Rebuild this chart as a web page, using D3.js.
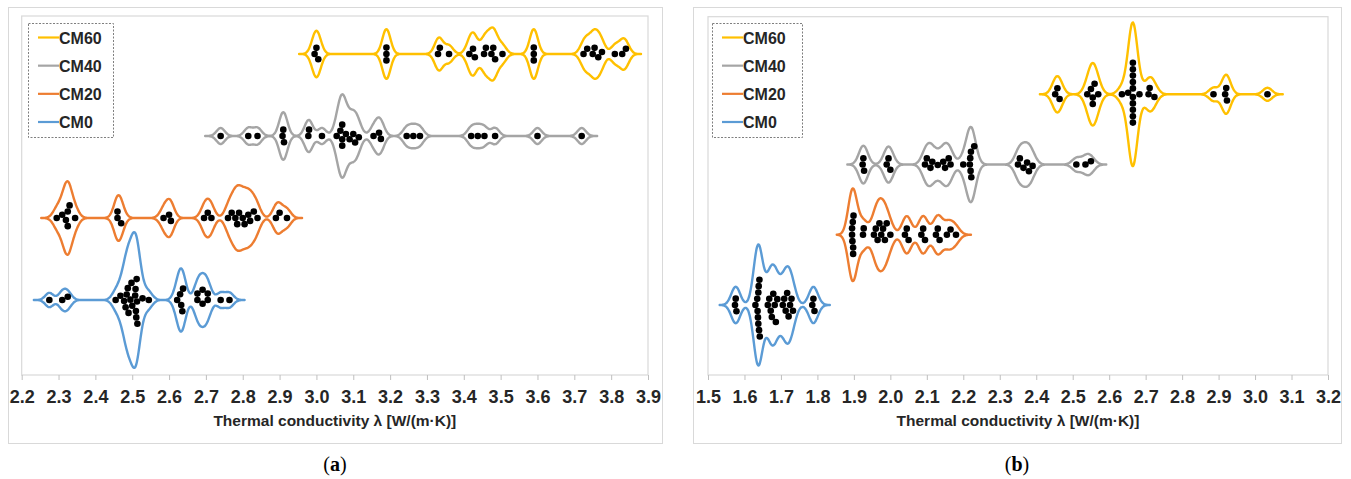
<!DOCTYPE html>
<html>
<head>
<meta charset="utf-8">
<script src="https://cdn.jsdelivr.net/npm/d3@7"></script>
<style>
  body { margin: 0; background: #fff; }
  svg { display: block; font-family: "Liberation Sans", Arial, sans-serif; }
  .tick text { font-size: 18px; font-weight: bold; fill: #262626; }
  .tick line { stroke: #bfbfbf; }
</style>
</head>
<body>
<svg width="1351" height="479"></svg>
<script>
// **** data ****
var groups = ['CM0', 'CM20', 'CM40', 'CM60'];
var legendOrder = ['CM60', 'CM40', 'CM20', 'CM0'];

// panel (a)
var cm0A = [2.275, 2.31, 2.325, 2.455, 2.468, 2.478, 2.482, 2.485, 2.488, 2.49, 2.495, 2.498, 2.50,
            2.508, 2.509, 2.510, 2.511, 2.512, 2.513, 2.514, 2.528, 2.545, 2.622, 2.630, 2.633,
            2.636, 2.638, 2.677, 2.677, 2.691, 2.691, 2.705, 2.705, 2.74, 2.764];
var cm20A = [2.295, 2.31, 2.32, 2.325, 2.325, 2.33, 2.345, 2.46, 2.46, 2.47, 2.585, 2.60, 2.605,
             2.695, 2.705, 2.715, 2.76, 2.77, 2.78, 2.785, 2.79, 2.80, 2.805, 2.815, 2.82, 2.83,
             2.84, 2.89, 2.90, 2.92];
var cm40A = [2.74, 2.815, 2.84, 2.908, 2.910, 2.912, 2.978, 2.98, 3.015, 3.055, 3.065, 3.07, 3.07, 3.07,
             3.08, 3.09, 3.10, 3.105, 3.115, 3.155, 3.17, 3.175, 3.245, 3.263, 3.281, 3.42, 3.438,
             3.456, 3.485, 3.60, 3.72];
var cm60A = [2.995, 3.00, 3.005, 3.19, 3.19, 3.19, 3.33, 3.335, 3.36, 3.415, 3.425, 3.43, 3.455, 3.46,
             3.475, 3.48, 3.485, 3.505, 3.59, 3.59, 3.59, 3.725, 3.735, 3.75, 3.755, 3.765, 3.775,
             3.81, 3.83, 3.84];

// panel (b)
var cm0B = [1.574, 1.576, 1.578, 1.630, 1.635, 1.636, 1.637, 1.638, 1.638, 1.639, 1.640, 1.641, 1.642,
            1.664, 1.668, 1.672, 1.675, 1.679, 1.683, 1.686, 1.690, 1.705, 1.709, 1.713, 1.717,
            1.721, 1.725, 1.729, 1.733, 1.786, 1.789, 1.792];
var cm20B = [1.895, 1.895, 1.896, 1.897, 1.898, 1.898, 1.899, 1.925, 1.927, 1.955, 1.96, 1.965, 1.97,
             1.975, 1.98, 1.985, 1.99, 2.0, 2.04, 2.045, 2.05, 2.085, 2.09, 2.095, 2.125, 2.13,
             2.135, 2.155, 2.165, 2.18];
var cm40B = [1.924, 1.926, 1.928, 1.99, 1.995, 2.0, 2.095, 2.10, 2.11, 2.115, 2.13, 2.145, 2.15, 2.16,
             2.165, 2.20, 2.218, 2.219, 2.22, 2.221, 2.222, 2.23, 2.35, 2.355, 2.365, 2.375, 2.38,
             2.39, 2.51, 2.535, 2.55];
var cm60B = [2.452, 2.458, 2.464, 2.54, 2.55, 2.555, 2.555, 2.56, 2.57, 2.635, 2.652, 2.665, 2.665,
             2.665, 2.665, 2.665, 2.665, 2.665, 2.665, 2.665, 2.665, 2.683, 2.708, 2.711, 2.724,
             2.886, 2.918, 2.921, 2.923, 3.034];

var ticksA = [2.2, 2.3, 2.4, 2.5, 2.6, 2.7, 2.8, 2.9, 3.0, 3.1, 3.2, 3.3, 3.4, 3.5, 3.6, 3.7, 3.8, 3.9];
var ticksB = [1.5, 1.6, 1.7, 1.8, 1.9, 2.0, 2.1, 2.2, 2.3, 2.4, 2.5, 2.6, 2.7, 2.8, 2.9, 3.0, 3.1, 3.2];

var axisTitle = 'Thermal conductivity λ [W/(m·K)]';

// **** styles / layout ****
var colors = { CM0: '#5b9bd5', CM20: '#ed7d31', CM40: '#a5a5a5', CM60: '#ffc000' };

var panels = [
  { label: 'a', data: { CM0: cm0A, CM20: cm20A, CM40: cm40A, CM60: cm60A }, ticks: ticksA,
    outer: [8, 7, 662, 443], plot: [21.7, 16, 648, 375], rows: [300, 54], peak: 68, bw: 0.011,
    legend: [28, 23, 113, 137] },
  { label: 'b', data: { CM0: cm0B, CM20: cm20B, CM40: cm40B, CM60: cm60B }, ticks: ticksB,
    outer: [693, 7, 1341, 443], plot: [708, 16.7, 1328, 375], rows: [305, 94.3], peak: 72, bw: 0.012,
    legend: [712, 23, 802, 137] }
];

var svg = d3.select('svg');

function kde(values, bw, grid) {
  var n = values.length;
  return grid.map(function (g) {
    var s = 0;
    values.forEach(function (v) {
      var u = (g - v) / bw;
      s += Math.exp(-0.5 * u * u);
    });
    return [g, s / (n * bw * Math.sqrt(2 * Math.PI))];
  });
}

// simple beeswarm: each dot goes to the free spot nearest the centre line
function swarm(values, x, diam) {
  var placed = [];
  values.slice().sort(d3.ascending).forEach(function (v) {
    var px = x(v);
    var cands = [0];
    placed.forEach(function (p) {
      var dx = Math.abs(px - p.x);
      if (dx < diam) {
        var dy = Math.sqrt(diam * diam - dx * dx);
        cands.push(p.y + dy, p.y - dy);
      }
    });
    cands.sort(function (a, b) { return Math.abs(a) - Math.abs(b) || a - b; });
    var best = cands.find(function (c) {
      return placed.every(function (p) {
        return Math.hypot(px - p.x, c - p.y) >= diam - 0.01;
      });
    });
    placed.push({ x: px, y: best, v: v });
  });
  return placed;
}

panels.forEach(function (pn) {
  var g = svg.append('g');
  var o = pn.outer, p = pn.plot;

  g.append('rect')
    .attr('x', o[0] + 0.5).attr('y', o[1] + 0.5)
    .attr('width', o[2] - o[0]).attr('height', o[3] - o[1])
    .attr('fill', 'none').attr('stroke', '#d9d9d9');

  g.append('rect')
    .attr('x', p[0]).attr('y', p[1])
    .attr('width', p[2] - p[0]).attr('height', p[3] - p[1])
    .attr('fill', 'none').attr('stroke', '#d9d9d9').attr('stroke-width', 1.2);

  var x = d3.scaleLinear()
    .domain([pn.ticks[0], pn.ticks[pn.ticks.length - 1]])
    .range([p[0], p[2]]);
  var y = d3.scalePoint().domain(groups).range(pn.rows);

  g.append('g')
    .attr('transform', 'translate(0,' + p[3] + ')')
    .call(d3.axisBottom(x).tickValues(pn.ticks).tickFormat(d3.format('.1f'))
      .tickSizeInner(5).tickSizeOuter(0).tickPadding(10))
    .call(function (a) { a.select('.domain').remove(); });

  g.append('text')
    .attr('x', (p[0] + p[2]) / 2).attr('y', 426)
    .attr('text-anchor', 'middle')
    .style('font-size', '15.5px').style('font-weight', 'bold').style('fill', '#262626')
    .text(axisTitle);

  // densities
  var dens = {};
  groups.forEach(function (k) {
    var vals = pn.data[k];
    var lo = d3.min(vals) - 0.042, hi = d3.max(vals) + 0.042;
    var grid = d3.range(lo, hi + 1e-9, 0.002);
    dens[k] = kde(vals, pn.bw, grid);
  });
  var maxD = d3.max(groups, function (k) { return d3.max(dens[k], function (d) { return d[1]; }); });
  var w = d3.scaleLinear().domain([0, maxD]).range([0, pn.peak]);

  groups.forEach(function (k) {
    var cy = y(k);
    var area = d3.area()
      .x(function (d) { return x(d[0]); })
      .y0(function (d) { return cy - w(d[1]); })
      .y1(function (d) { return cy + w(d[1]); })
      .curve(d3.curveBasis);
    g.append('path')
      .datum(dens[k])
      .attr('d', area)
      .attr('fill', 'none')
      .attr('stroke', colors[k])
      .attr('stroke-width', 2.4)
      .attr('stroke-linejoin', 'round');

    g.selectAll(null)
      .data(swarm(pn.data[k], x, 6.4))
      .enter().append('circle')
      .attr('cx', function (d) { return d.x; })
      .attr('cy', function (d) { return cy + d.y; })
      .attr('r', 3.3)
      .attr('fill', '#000');
  });

  // legend
  var L = pn.legend;
  g.append('rect')
    .attr('x', L[0] + 0.5).attr('y', L[1] + 0.5)
    .attr('width', L[2] - L[0]).attr('height', L[3] - L[1])
    .attr('fill', '#fff').attr('stroke', '#7f7f7f').attr('stroke-dasharray', '2,1.5');
  var ly = d3.scalePoint().domain(legendOrder).range([L[1] + 14.5, L[1] + 99]);
  legendOrder.forEach(function (k) {
    g.append('line')
      .attr('x1', L[0] + 10).attr('x2', L[0] + 31)
      .attr('y1', ly(k)).attr('y2', ly(k))
      .attr('stroke', colors[k]).attr('stroke-width', 2.2);
    g.append('text')
      .attr('x', L[0] + 31).attr('y', ly(k) + 6)
      .style('font-size', '16px').style('font-weight', 'bold').style('fill', '#262626')
      .text(k);
  });

  // panel caption
  var cap = svg.append('text')
    .attr('x', (o[0] + o[2]) / 2).attr('y', 471)
    .attr('text-anchor', 'middle')
    .style('font-family', '"Liberation Serif", "Times New Roman", serif')
    .style('font-size', '20px').style('fill', '#000');
  cap.append('tspan').text('(');
  cap.append('tspan').style('font-weight', 'bold').text(pn.label);
  cap.append('tspan').text(')');
});
</script>
</body>
</html>
